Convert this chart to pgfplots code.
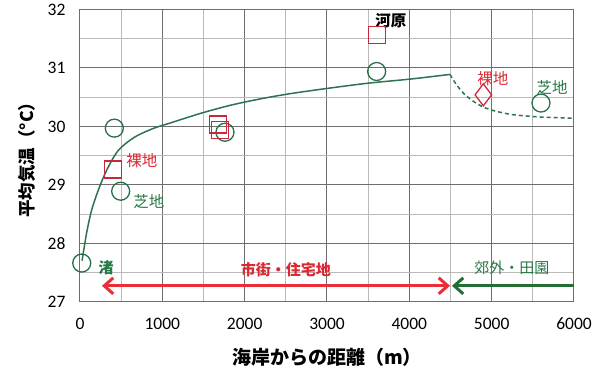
\documentclass[border=0pt]{standalone}
\usepackage{pgfplots}
\pgfplotsset{compat=1.18}
\usepackage{fontspec}
\setmainfont{Carlito}
\newfontfamily\jp{Noto Sans CJK JP}
\usetikzlibrary{arrows.meta}
\definecolor{gridmaj}{RGB}{110,110,110}
\definecolor{gridmin}{RGB}{185,185,185}
\definecolor{curveg}{RGB}{45,115,80}
\definecolor{markg}{RGB}{40,110,70}
\definecolor{markr}{RGB}{200,40,60}
\definecolor{labr}{RGB}{220,40,50}
\definecolor{labg}{RGB}{40,120,70}
\definecolor{arrr}{RGB}{235,45,55}
\definecolor{arrg}{RGB}{35,110,50}
\begin{document}
\begin{tikzpicture}
\begin{axis}[
  scale only axis, width=494pt, height=292pt,
  xmin=0, xmax=6000, ymin=27, ymax=32,
  xtick={0,1000,2000,3000,4000,5000,6000},
  ytick={27,28,29,30,31,32},
  minor x tick num=1, minor y tick num=1,
  grid=both,
  major grid style={draw=gridmaj, line width=1pt},
  minor grid style={draw=gridmin, line width=0.8pt},
  axis line style={draw=gridmaj, line width=1pt},
  major tick length=0pt, minor tick length=0pt,
  tick label style={font=\fontsize{17.5}{17.5}\selectfont, text=black},
  /pgf/number format/assume math mode=true,
  /pgf/number format/set thousands separator={},
  xticklabel style={yshift=-13pt},
  yticklabel style={xshift=-11pt},
  xlabel={海岸からの距離（m）},
  ylabel={平均気温（°C）},
  xlabel style={font=\jp\bfseries\fontsize{19}{19}\selectfont, at={(axis description cs:0.5,-0.189)}, anchor=center},
  ylabel style={font=\jp\bfseries\fontsize{17.5}{17.5}\selectfont, at={(axis description cs:-0.107,0.5)}, anchor=center},
  clip=false,
]
% solid fitted curve
\addplot[curveg, line width=1.5pt, smooth, tension=0.5] coordinates {
 (25,27.70) (81,28.18) (142,28.57) (223,28.91) (324,29.25) (466,29.59)
 (668,29.82) (900,29.97) (1100,30.06) (1457,30.22) (1822,30.36)
 (2186,30.47) (2551,30.56) (3000,30.65) (3500,30.74) (4010,30.81) (4494,30.89)};
% dashed curve
\addplot[curveg, line width=1.5pt, dashed, dash pattern=on 4pt off 3pt, smooth, tension=0.5] coordinates {
 (4494,30.89) (4560,30.74) (4656,30.57) (4777,30.43) (4900,30.33)
 (5050,30.26) (5263,30.20) (5600,30.16) (6000,30.14)};
% circles
\addplot[only marks, mark=o, mark size=9pt, draw=markg, mark options={line width=1.3pt}] coordinates {
 (21,27.66) (417,29.97) (494,28.89) (1761,29.90) (3603,30.94) (5599,30.40)};
% squares
\addplot[only marks, mark=square, mark size=8.5pt, draw=markr, mark options={line width=1.3pt}] coordinates {
 (397,29.26) (1680,30.03) (1700,29.94) (3604,31.56)};
% diamond
\addplot[only marks, mark=diamond, mark size=11pt, draw=markr, mark options={line width=1.3pt}] coordinates {
 (4899,30.54)};
% arrows
\addplot[arrr, line width=3pt, {Straight Barb[length=9pt,width=16pt,line width=3pt]}-{Straight Barb[length=9pt,width=16pt,line width=3pt]}] coordinates {(267,27.27) (4494,27.27)};
\addplot[arrg, line width=3pt, {Straight Barb[length=9pt,width=16pt,line width=3pt]}-] coordinates {(4518,27.27) (6000,27.27)};
% labels
\node[text=labg, font=\jp\bfseries\fontsize{15}{15}\selectfont] at (axis cs:316,27.58) {渚};
\node[text=labr, font=\jp\fontsize{15.5}{15.5}\selectfont] at (axis cs:753,29.41) {裸地};
\node[text=labg, font=\jp\fontsize{15.5}{15.5}\selectfont] at (axis cs:838,28.71) {芝地};
\node[text=black, font=\jp\bfseries\fontsize{15.5}{15.5}\selectfont] at (axis cs:3777,31.81) {河原};
\node[text=labr, font=\jp\fontsize{15.5}{15.5}\selectfont] at (axis cs:5016,30.82) {裸地};
\node[text=labg, font=\jp\fontsize{15.5}{15.5}\selectfont] at (axis cs:5733,30.67) {芝地};
\node[text=labr, font=\jp\bfseries\fontsize{15}{15}\selectfont] at (axis cs:2502,27.55) {市街・住宅地};
\node[text=labg, font=\jp\fontsize{15}{15}\selectfont] at (axis cs:5247,27.58) {郊外・田園};
\end{axis}
\pgfresetboundingbox
\path[use as bounding box] (current axis.south west) ++(-80pt,-72.4pt) rectangle ++(600pt,374pt);
\end{tikzpicture}
\end{document}
